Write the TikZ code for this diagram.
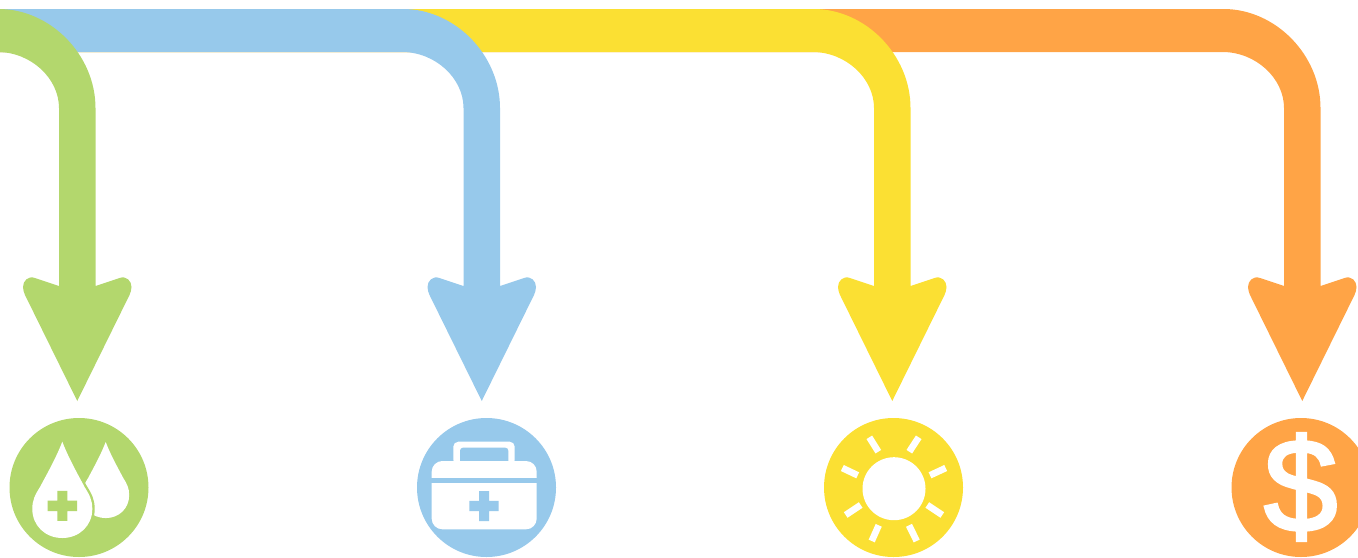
\documentclass[tikz,border=0pt]{standalone}
\usepackage{fontspec}
\setmainfont{Liberation Sans}
\newfontfamily\dollarfont[FakeBold=2.5]{Liberation Sans}
\definecolor{cgreen}{HTML}{B3D76D}
\definecolor{cblue}{HTML}{97C9EB}
\definecolor{cyellow}{HTML}{FBE033}
\definecolor{corange}{HTML}{FFA446}
\newcommand{\bigarrow}[2]{%
  \begin{scope}[shift={(#1,0)}]
  \fill[#2] (-1400,9) -- (-60.5,9) .. controls (-8.5,9) and (36.5,55) .. (36.5,108)
    -- (36.5,286) -- (60.5,278) .. controls (67.5,275.5) and (72.5,281) .. (72.5,287)
    .. controls (72.5,290) and (71.5,292.5) .. (70.5,295) -- (18.25,401)
    -- (-34,295) .. controls (-35,292.5) and (-36,290) .. (-36,287)
    .. controls (-36,281) and (-31,275.5) .. (-24,278) -- (0,286)
    -- (0,108) .. controls (0,78) and (-28.5,52) .. (-61.5,52) -- (-1400,52) -- cycle;
  \end{scope}}
\newcommand{\dropshape}{(0,0) .. controls (-6.3,16.3) and (-14.3,30.3) .. (-22.3,45.3)
    .. controls (-27.3,53.3) and (-30,58.3) .. (-30,67.3)
    .. controls (-30,84) and (-17,96.3) .. (0,96.3)
    .. controls (17,96.3) and (30,84) .. (30,67.3)
    .. controls (30,58.3) and (27.3,53.3) .. (22.3,45.3)
    .. controls (14.3,30.3) and (6.3,16.3) .. (0,0) -- cycle}
\newcommand{\crossat}[3]{%
  \fill[#3] (#1-14.7,#2-5.2) -- (#1-5,#2-5.2) -- (#1-5,#2-15) -- (#1+5,#2-15) -- (#1+5,#2-5.2)
    -- (#1+14.7,#2-5.2) -- (#1+14.7,#2+5.2) -- (#1+5,#2+5.2) -- (#1+5,#2+15) -- (#1-5,#2+15)
    -- (#1-5,#2+5.2) -- (#1-14.7,#2+5.2) -- cycle;}
\tikzset{sunray/.style={draw=white,line width=5pt}}
\begin{document}
\begin{tikzpicture}[x=0.75pt,y=-0.75pt]
\useasboundingbox (0,0) rectangle (1358,557);
\clip (0,0) rectangle (1358,557);
% arrows, back to front
\bigarrow{1284}{corange}
\bigarrow{874}{cyellow}
\bigarrow{463.5}{cblue}
\bigarrow{59}{cgreen}
% green icon
\fill[cgreen] (79,487.5) circle (69.5);
\begin{scope}[shift={(105.7,442)},xscale=.783,yscale=.79]
  \fill[white] \dropshape;
\end{scope}
\begin{scope}[shift={(62.3,441.7)}]
  \draw[cgreen,line width=3.6pt] \dropshape;
  \fill[white] \dropshape;
\end{scope}
\crossat{62.3}{505.8}{cgreen}
% blue icon
\fill[cblue] (486.5,487.5) circle (69.5);
\fill[white,rounded corners=3.75pt] (453.3,465) -- (453.3,441.7) -- (514.7,441.7) -- (514.7,465) -- cycle;
\fill[cblue,rounded corners=2.2pt] (460,465) -- (460,447.7) -- (508.3,447.7) -- (508.3,465) -- cycle;
\fill[white,rounded corners=8pt] (431.7,490) -- (431.7,461) -- (536.7,461) -- (536.7,490) -- cycle;
\fill[white,rounded corners=8pt] (431.7,470) -- (431.7,529.3) -- (536.7,529.3) -- (536.7,470) -- cycle;
\fill[cblue] (431,478) rectangle (538,482.7);
\crossat{484}{506}{cblue}
% yellow icon
\fill[cyellow] (893.5,487.5) circle (69.5);
\fill[white] (894,488.7) circle (31.5);
\draw[sunray] (869.3,437.3) -- (878.3,451.7);
\draw[sunray] (918.7,437.3) -- (909.3,451.7);
\draw[sunray] (945.7,468) -- (930,475.3);
\draw[sunray] (942.3,515) -- (927.3,505);
\draw[sunray] (916.7,541) -- (909,525.3);
\draw[sunray] (871.7,541) -- (878.7,525.3);
\draw[sunray] (845.7,515) -- (860.7,505);
\draw[sunray] (842.3,468) -- (857.7,475.3);
% orange icon
\fill[corange] (1301,487.5) circle (69.5);
\node[text=white,inner sep=0pt,font=\dollarfont\fontsize{99}{99}\selectfont] (dollar) at (1300.7,487) {\$};
\end{tikzpicture}
\end{document}
